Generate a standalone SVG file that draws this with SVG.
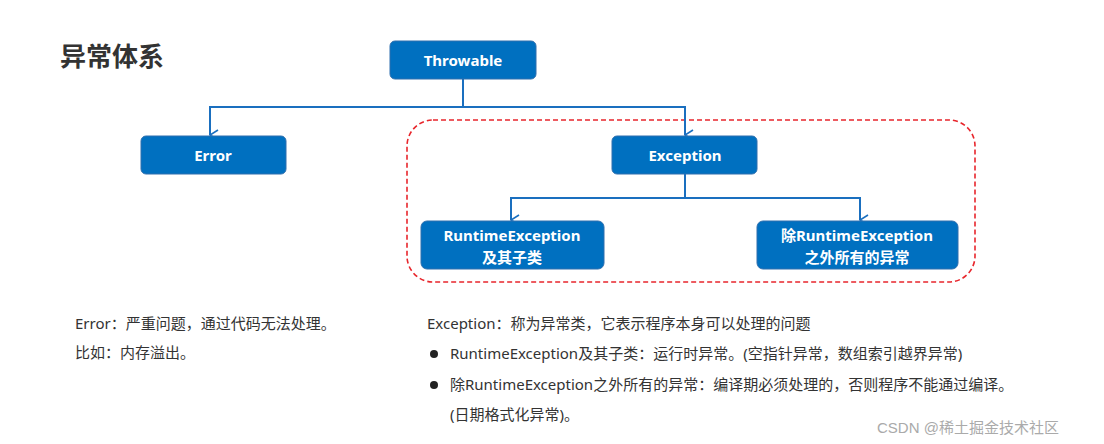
<svg xmlns="http://www.w3.org/2000/svg" width="1104" height="444" viewBox="0 0 1104 444">
<style>
.box{fill:#0070c0;stroke:#2f6fae;stroke-width:1}
.bt{font-family:"Noto Sans","Noto Sans CJK SC",sans-serif;font-weight:bold;font-size:15px;fill:#fff;text-anchor:middle}
.t{font-family:"Noto Sans","Noto Sans CJK SC",sans-serif;font-size:15px;fill:#333}
.ln{fill:none;stroke:#1a6fbf;stroke-width:2}
</style>
<defs><marker id="a" viewBox="0 0 12 12" refX="6" refY="11" markerWidth="12" markerHeight="12" markerUnits="userSpaceOnUse" orient="auto-start-reverse"><path d="M1,3 L6,11 L11,3" fill="none" stroke="#1a6fbf" stroke-width="1.6"/></marker></defs>
<rect width="1104" height="444" fill="#fff"/>
<text x="60" y="66" font-family="Noto Sans CJK SC,sans-serif" font-weight="bold" font-size="26" fill="#333">异常体系</text>
<rect x="407" y="120" width="568" height="162" rx="26" fill="none" stroke="#e8262c" stroke-width="1.6" stroke-dasharray="5,3"/>
<g id="connectors">
<path class="ln" d="M463,79 V107 M210,107 H685" />
<path class="ln" d="M210,106 V135" marker-end="url(#a)"/>
<path class="ln" d="M685,106 V135" marker-end="url(#a)"/>
<path class="ln" d="M685,174 V198 M511,198 H860"/>
<path class="ln" d="M511,197 V220" marker-end="url(#a)"/>
<path class="ln" d="M860,197 V220" marker-end="url(#a)"/>
</g>
<g id="throwable"><rect class="box" x="390" y="41" width="146" height="38" rx="5"/><text class="bt" x="463" y="66">Throwable</text></g>
<g id="error"><rect class="box" x="141" y="136" width="145" height="38" rx="5"/><text class="bt" x="213" y="161">Error</text></g>
<g id="exception"><rect class="box" x="612" y="136" width="145" height="38" rx="5"/><text class="bt" x="685" y="161">Exception</text></g>
<g id="runtime"><rect class="box" x="421" y="221" width="183" height="48" rx="6"/><text class="bt" x="512" y="241">RuntimeException</text><text class="bt" x="512" y="263">及其子类</text></g>
<g id="other"><rect class="box" x="757" y="221" width="201" height="48" rx="6"/><text class="bt" x="857" y="241">除RuntimeException</text><text class="bt" x="857" y="263">之外所有的异常</text></g>
<text class="t" x="75" y="329">Error：严重问题，通过代码无法处理。</text>
<text class="t" x="75" y="358">比如：内存溢出。</text>
<text class="t" x="427" y="329">Exception：称为异常类，它表示程序本身可以处理的问题</text>
<circle cx="434" cy="354" r="4" fill="#222"/>
<text class="t" x="450" y="359">RuntimeException及其子类：运行时异常。(空指针异常，数组索引越界异常)</text>
<circle cx="434" cy="385" r="4" fill="#222"/>
<text class="t" x="450" y="390">除RuntimeException之外所有的异常：编译期必须处理的，否则程序不能通过编译。</text>
<text class="t" x="450" y="420">(日期格式化异常)。</text>
<text x="877" y="433" font-family="Liberation Sans,Noto Sans CJK SC,sans-serif" font-size="15" fill="#aaa">CSDN @稀土掘金技术社区</text>
</svg>
